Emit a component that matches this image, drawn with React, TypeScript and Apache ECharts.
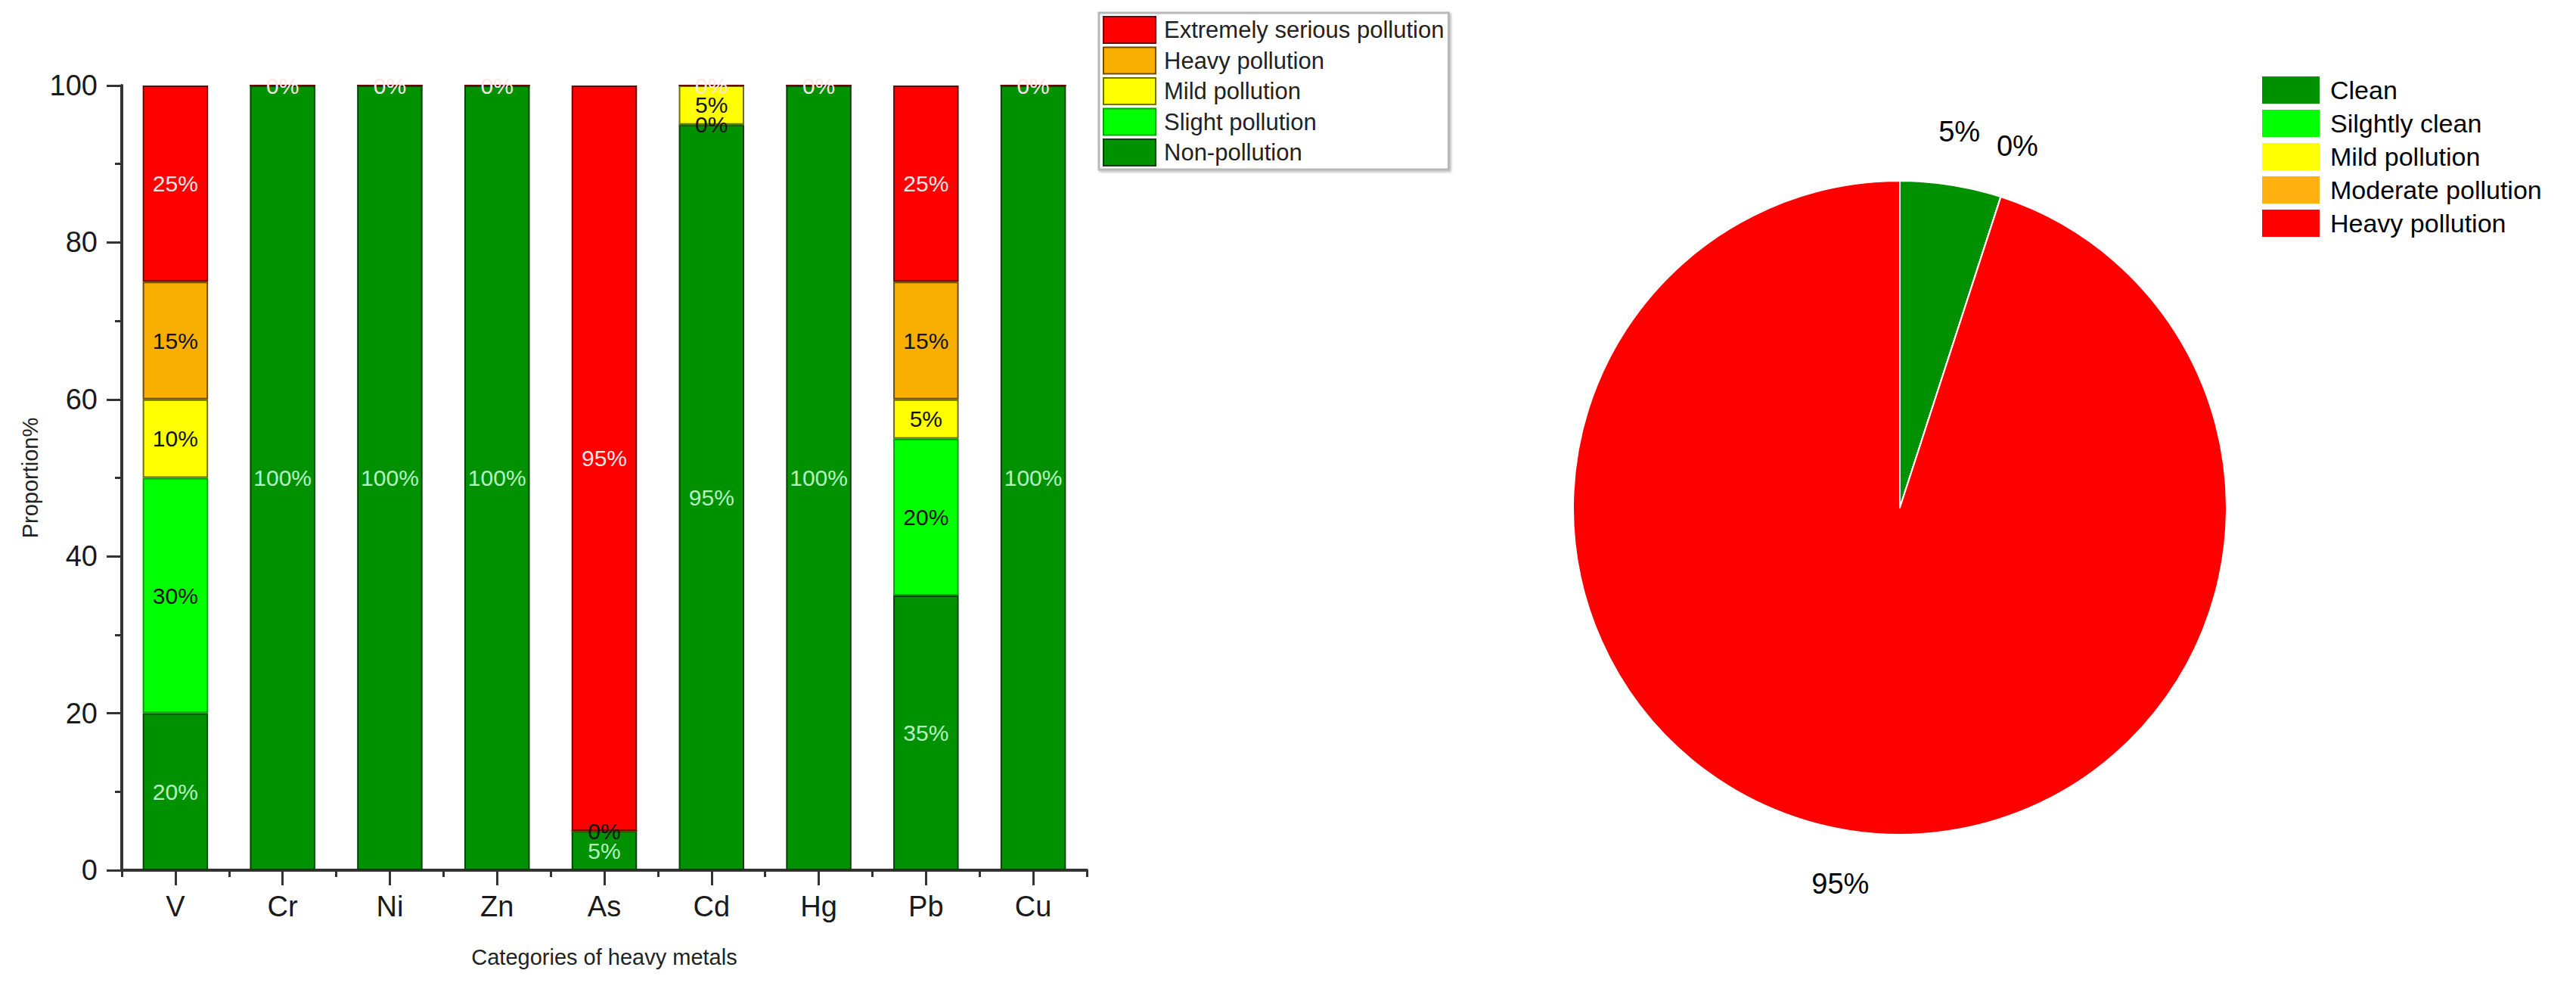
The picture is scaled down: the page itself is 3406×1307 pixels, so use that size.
import React, { useEffect, useRef } from "react";
import * as echarts from "echarts";

const categories = ["V", "Cr", "Ni", "Zn", "As", "Cd", "Hg", "Pb", "Cu"];
const nonPollution = [20, 100, 100, 100, 5, 95, 100, 35, 100];
const slightPollution = [30, 0, 0, 0, 0, 0, 0, 20, 0];
const mildPollution = [10, 0, 0, 0, 0, 5, 0, 5, 0];
const heavyPollution = [15, 0, 0, 0, 0, 0, 0, 15, 0];
const extremePollution = [25, 0, 0, 0, 95, 0, 0, 25, 0];

const barSeriesNames = ["Non-pollution", "Slight pollution", "Mild pollution", "Heavy pollution", "Extremely serious pollution"];
const barColors = ["#009100", "#00ff00", "#ffff00", "#f9af00", "#ff0000"];
const barBorders = ["#004400", "#00a000", "#707000", "#6e4c00", "#780000"];
const barLabelColors = ["#b4f4c0", "#111111", "#111111", "#111111", "#ffe6e6"];
const barValues = [nonPollution, slightPollution, mildPollution, heavyPollution, extremePollution];

const pieNames = ["Clean", "Silghtly clean", "Mild pollution", "Moderate pollution", "Heavy pollution"];
const pieValues = [5, 0, 0, 0, 95];
const pieColors = ["#009100", "#00ff00", "#ffff00", "#ffb20f", "#ff0000"];

const FONT = "'Liberation Sans', Arial, sans-serif";

export default function App() {
  const ref = useRef<HTMLDivElement>(null);
  useEffect(() => {
    if (!ref.current) return;
    const chart = echarts.init(ref.current, null, { renderer: "svg" });

    // a zero label is shown once per position: only the topmost of a run of zeros
    const barSeries = barSeriesNames.map((name, i) => ({
      name,
      type: "bar",
      stack: "total",
      xAxisIndex: 0,
      yAxisIndex: 0,
      barCategoryGap: "39%",
      data: barValues[i].map((v, j) => ({
        value: v,
        label: { show: !(v === 0 && i < barValues.length - 1 && barValues[i + 1][j] === 0) },
      })),
      itemStyle: { color: barColors[i], borderColor: barBorders[i], borderWidth: 2 },
      label: {
        show: true,
        position: "inside",
        formatter: "{c}%",
        fontSize: 30,
        fontFamily: FONT,
        color: barLabelColors[i],
      },
    }));

    const pieData = pieNames.map((n, i) => ({ name: n, value: pieValues[i], itemStyle: { color: pieColors[i] } }));
    const pieLabelData = pieNames.map((n, i) => ({
      name: n,
      value: pieValues[i],
      label: { show: !(pieValues[i] === 0 && i < pieValues.length - 1 && pieValues[i + 1] === 0) },
    }));

    const legendLeftOrder = [4, 3, 2, 1, 0];

    chart.setOption({
      animation: false,
      textStyle: { fontFamily: FONT },
      grid: { left: 161, right: 1969, top: 113, bottom: 157, containLabel: false },
      legend: [
        {
          orient: "vertical",
          left: 1453,
          top: 17,
          padding: [4, 6, 4, 5],
          itemWidth: 69,
          itemHeight: 35,
          itemGap: 3.5,
          borderColor: "#b8b8b8",
          borderWidth: 3,
          backgroundColor: "#fff",
          shadowColor: "rgba(0,0,0,0.25)",
          shadowBlur: 3,
          shadowOffsetX: 2,
          shadowOffsetY: 2,
          selectedMode: false,
          textStyle: { fontSize: 31, color: "#222", fontFamily: FONT, lineHeight: 35, padding: [0, 0, 0, 6] },
          data: legendLeftOrder.map((i) => ({
            name: barSeriesNames[i],
            icon: "rect",
            itemStyle: { color: barColors[i], borderColor: barBorders[i], borderWidth: 2 },
          })),
        },
        {
          orient: "vertical",
          left: 2991,
          top: 101,
          padding: 0,
          itemWidth: 76,
          itemHeight: 36,
          itemGap: 8,
          selectedMode: false,
          textStyle: { fontSize: 34, color: "#000", fontFamily: FONT, lineHeight: 36, padding: [0, 0, 0, 9] },
          data: pieNames.map((n, i) => ({
            name: n,
            icon: "rect",
            itemStyle: { color: pieColors[i], borderWidth: 0 },
          })),
        },
      ],
      xAxis: [
        {
          type: "category",
          data: categories,
          position: "bottom",
          name: "Categories of heavy metals",
          nameLocation: "middle",
          nameGap: 100,
          nameTextStyle: { fontSize: 29, color: "#222", fontFamily: FONT },
          axisLine: { show: true, lineStyle: { color: "#333", width: 4 } },
          axisTick: { show: true, alignWithLabel: true, length: 20, lineStyle: { color: "#333", width: 3 } },
          axisLabel: { fontSize: 38, color: "#1a1a1a", margin: 29, fontFamily: FONT },
          splitLine: { show: false },
        },
        {
          type: "category",
          data: categories,
          position: "bottom",
          axisLine: { show: false },
          axisTick: { show: true, alignWithLabel: false, length: 9, lineStyle: { color: "#333", width: 3 } },
          axisLabel: { show: false },
          splitLine: { show: false },
        },
      ],
      yAxis: {
        type: "value",
        min: 0,
        max: 100,
        interval: 20,
        name: "Proportion%",
        nameLocation: "middle",
        nameGap: 107,
        nameRotate: 90,
        nameTextStyle: { fontSize: 29, color: "#222", fontFamily: FONT },
        axisLine: { show: true, lineStyle: { color: "#333", width: 4 } },
        axisTick: { show: true, length: 20, lineStyle: { color: "#333", width: 3 } },
        minorTick: { show: true, splitNumber: 2, length: 9, lineStyle: { color: "#333", width: 3 } },
        axisLabel: { fontSize: 38, color: "#1a1a1a", margin: 32, fontFamily: FONT },
        splitLine: { show: false },
      },
      series: [
        ...barSeries,
        {
          name: "pie",
          type: "pie",
          center: [2512, 671],
          radius: 432,
          startAngle: 90,
          clockwise: true,
          data: pieData,
          itemStyle: { borderColor: "#fff", borderWidth: 2 },
          label: { show: false },
          labelLine: { show: false },
          emphasis: { disabled: true },
        },
        {
          name: "pieLabels",
          type: "pie",
          center: [2512, 671],
          radius: [432, 568],
          startAngle: 90,
          clockwise: true,
          silent: true,
          data: pieLabelData,
          itemStyle: { color: "rgba(0,0,0,0)", borderWidth: 0 },
          label: {
            show: true,
            position: "inside",
            formatter: "{c}%",
            fontSize: 38,
            color: "#000",
            fontFamily: FONT,
          },
          labelLine: { show: false },
          emphasis: { disabled: true },
        },
      ],
    });
    return () => chart.dispose();
  }, []);
  return (
    <div
      ref={ref}
      style={{ position: "fixed", left: 0, top: 0, width: "3406px", height: "1307px", background: "#fff" }}
    />
  );
}
